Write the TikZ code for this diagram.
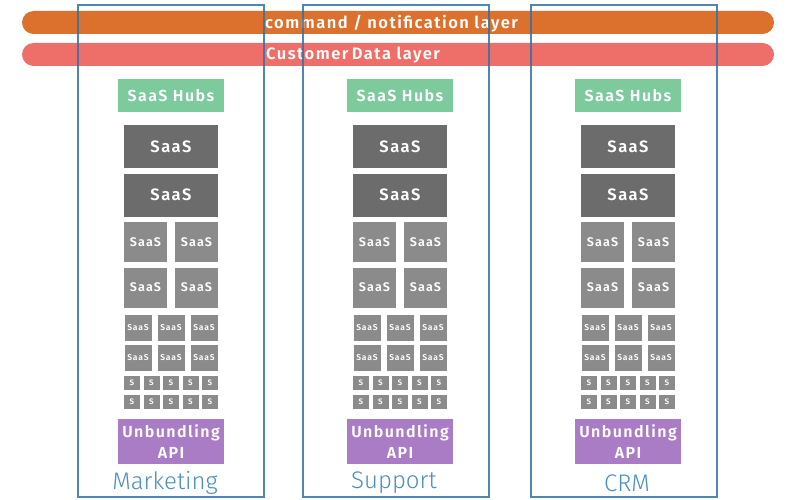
\documentclass[tikz,border=0pt]{standalone}
\usepackage{fontspec}
\setmainfont{Fira Sans}
\newfontfamily\bsp[LetterSpace=9, UprightFont={* SemiBold}]{Fira Sans}
\newfontfamily\lightf{Fira Sans Light}
\definecolor{cmdorange}{HTML}{DC712E}
\definecolor{datared}{HTML}{EE6F69}
\definecolor{hubgreen}{HTML}{7DCA9D}
\definecolor{darkg}{HTML}{6C6C6C}
\definecolor{midg}{HTML}{8B8B8B}
\definecolor{apipurple}{HTML}{AB7CC6}
\definecolor{colblue}{HTML}{2F73A5}
\definecolor{lblblue}{HTML}{4B8EC0}
\tikzset{
  bar/.style={fill=#1, draw=none, rounded corners=11.5pt, minimum width=752pt, minimum height=23pt, inner sep=0pt},
  bartext/.style={text=white, font=\bsp\fontsize{16.5}{16}\selectfont, anchor=west, inner sep=0pt},
  colbox/.style={draw=colblue, draw opacity=0.85, line width=1.8pt, minimum width=186pt, minimum height=492pt, inner sep=0pt},
  blk/.style={fill=#1, text=white, inner sep=0pt, align=center},
  hub/.style={blk=hubgreen, minimum width=106pt, minimum height=33pt, font=\bsp\fontsize{16}{16}\selectfont},
  big/.style={blk=darkg, minimum width=94pt, minimum height=43pt, font=\bsp\fontsize{16.5}{16}\selectfont},
  med/.style={blk=midg, minimum width=43pt, minimum height=40pt, font=\bsp\fontsize{12.5}{12}\selectfont},
  sml/.style={blk=midg, minimum width=27pt, minimum height=26pt, font=\bsp\fontsize{8.5}{8.5}\selectfont},
  tny/.style={blk=midg, minimum width=16pt, minimum height=14pt, font=\bsp\fontsize{8}{8}\selectfont},
  api/.style={blk=apipurple, minimum width=106pt, minimum height=45pt, font=\bsp\fontsize{16}{21}\selectfont},
  lbl/.style={text=lblblue, font=\lightf\fontsize{24}{24}\selectfont, inner sep=0pt}
}
\begin{document}
\begin{tikzpicture}[x=1pt,y=-1pt]
\useasboundingbox (0,0) rectangle (800,500);
% layers
\node[bar=cmdorange] (cmdbar) at (398,22.5) {};
\node[bartext] (cmdtxt) at (265,23.5) {command / notification layer};
\node[bar=datared] (databar) at (398,54.5) {};
\node[bartext] (datatxt) at (266,55.5) {Customer\kern-2pt\ Data layer};
% columns
\foreach \i/\cx/\bx/\lx/\name in {1/171/171/165/Marketing, 2/400/396/394/Support, 3/628/624/627/CRM}{
  \node[hub] (hub\i) at (\cx,95.5) {SaaS Hubs};
  \node[big] (bigA\i) at (\cx,146.5) {SaaS};
  \node[big] (bigB\i) at (\cx,195) {SaaS};
  \foreach \r/\ry in {1/242, 2/287.5}{
    \node[med] (medL\i\r) at ({\cx-25.5},\ry) {SaaS};
    \node[med] (medR\i\r) at ({\cx+25.5},\ry) {SaaS};
  }
  \foreach \r/\ry in {1/328, 2/357.5}{
    \foreach \k/\dx in {1/-33, 2/0, 3/33}{
      \node[sml] (sml\i\r\k) at ({\cx+\dx},\ry) {SaaS};
    }
  }
  \foreach \r/\ry in {1/383, 2/401.5}{
    \foreach \k/\dx in {1/-39, 2/-19.5, 3/0, 4/19.5, 5/39}{
      \node[tny] (tny\i\r\k) at ({\cx+\dx},\ry) {S};
    }
  }
  \node[api] (api\i) at (\cx,441.5) {Unbundling\\API};
  \node[lbl] (lbl\i) at (\lx,483) {\name};
  \node[colbox] (col\i) at (\bx,251) {};
}
\end{tikzpicture}
\end{document}
